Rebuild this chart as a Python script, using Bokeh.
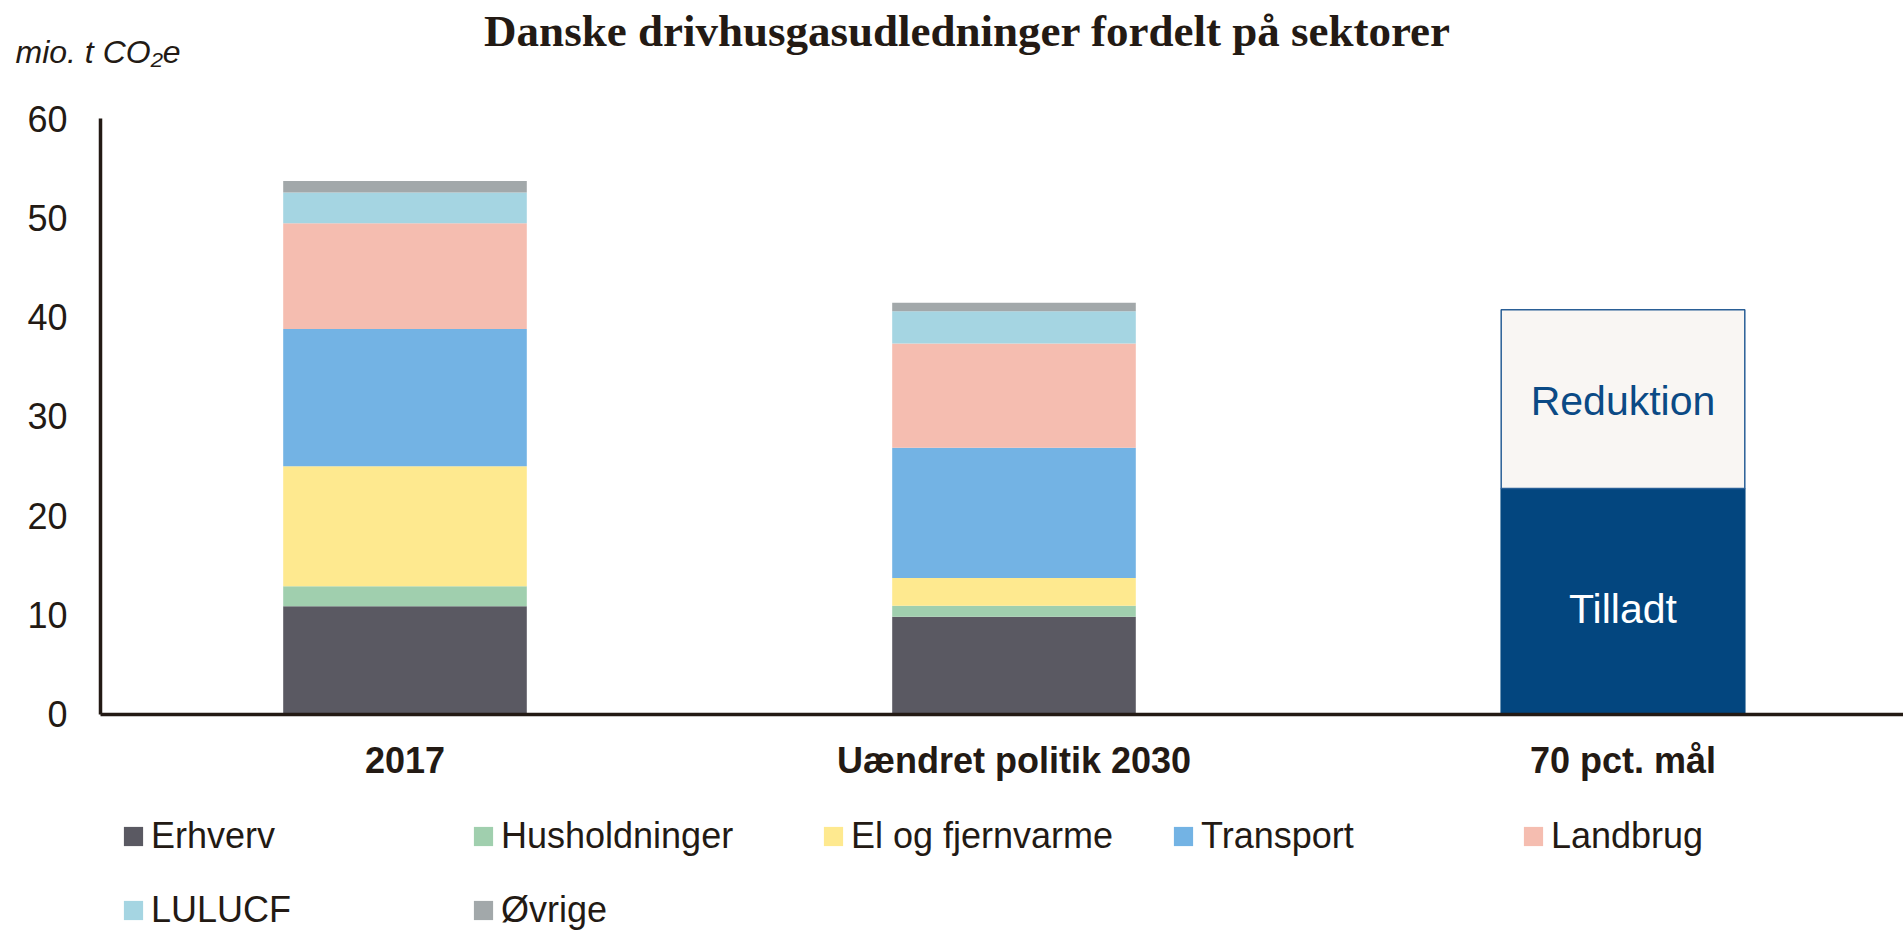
from bokeh.plotting import figure
from bokeh.models import (Range1d, FixedTicker, Legend, LegendItem, Label,
                          ColumnDataSource, LinearAxis)
from bokeh.core.properties import value
from bokeh.embed import file_html
from bokeh.resources import INLINE

# ---------------- data ----------------
categories = ["2017", "Uændret politik 2030", "70 pct. mål"]
sectors = ["Erhverv", "Husholdninger", "El og fjernvarme", "Transport",
           "Landbrug", "LULUCF", "Øvrige"]
erhverv = [10.9, 9.85]
husholdninger = [2.0, 1.1]
el_fjernvarme = [12.1, 2.8]
transport = [13.8, 13.1]
landbrug = [10.65, 10.5]
lulucf = [3.1, 3.25]
ovrige = [1.15, 0.85]
target_labels = ["Tilladt", "Reduktion"]
tilladt = [22.75]
reduktion = [18.0]
y_ticks = [0, 10, 20, 30, 40, 50, 60]

colors = ["#5a5962", "#a0cfae", "#fee98f", "#73b3e4", "#f5bdb0", "#a5d5e2", "#a2a8aa"]
TXT = "#231a14"
NAVY = "#03467f"

W, H = 1903, 931
# frame covers the whole canvas; axes are pinned with fixed_location
x_lo, x_hi = -0.6642, 2.4606
y_lo, y_hi = -21.85, 71.88

p = figure(width=W, height=H, output_backend="svg", toolbar_location=None,
           title=None, x_axis_type=None, y_axis_type=None,
           x_range=Range1d(x_lo, x_hi), y_range=Range1d(y_lo, y_hi),
           min_border=0, outline_line_color=None,
           background_fill_color="white", border_fill_color="white")
p.xgrid.visible = False
p.ygrid.visible = False

x_idx = list(range(len(categories)))

yaxis = LinearAxis(fixed_location=-0.5, bounds=(y_ticks[0], y_ticks[-1]),
                   ticker=FixedTicker(ticks=y_ticks), major_label_standoff=33)
xaxis = LinearAxis(fixed_location=0, bounds=(-0.5, x_hi),
                   ticker=FixedTicker(ticks=x_idx),
                   major_label_overrides={i: c for i, c in zip(x_idx, categories)},
                   major_label_text_font_style="bold", major_label_standoff=26)
for ax in (xaxis, yaxis):
    ax.axis_line_width = 3.5
    ax.axis_line_color = TXT
    ax.major_tick_in = 0
    ax.major_tick_out = 0
    ax.minor_tick_in = 0
    ax.minor_tick_out = 0
    ax.major_label_text_font = "Liberation Sans"
    ax.major_label_text_font_size = "36px"
    ax.major_label_text_color = TXT
p.add_layout(yaxis, "left")
p.add_layout(xaxis, "below")

# stacked sector bars
keys = ["s%d" % i for i in range(len(sectors))]
series = [erhverv, husholdninger, el_fjernvarme, transport, landbrug, lulucf, ovrige]
data = {"x": x_idx[:2]}
for k, s in zip(keys, series):
    data[k] = s
src = ColumnDataSource(data)
renderers = p.vbar_stack(keys, x="x", width=0.4, fill_color=colors,
                         line_color=None, source=src)

# target bar
t_bottom = [0, tilladt[0]]
t_top = [tilladt[0], tilladt[0] + reduktion[0]]
tsrc = ColumnDataSource(dict(x=[x_idx[2]] * 2, bottom=t_bottom, top=t_top,
                             fill=[NAVY, "#f9f6f3"], line=[NAVY, "#2a5f96"],
                             mid=[(b + t) / 2 for b, t in zip(t_bottom, t_top)],
                             label=target_labels, tcol=["white", "#0b4a85"],
                             yoff=[8, 2]))
p.vbar(x="x", bottom="bottom", top="top", width=0.4, fill_color="fill",
       line_color="line", line_width=1.5, source=tsrc)
p.text(x="x", y="mid", text="label", text_color="tcol", y_offset="yoff",
       source=tsrc, text_font=value("Liberation Sans"), text_font_size="41px",
       text_align="center", text_baseline="middle")

# legend
items = [LegendItem(label=s, renderers=[r]) for s, r in zip(sectors, renderers)]
legend = Legend(items=items, location=(121, 0), orientation="horizontal",
                ncols=5, glyph_width=24, glyph_height=24, label_standoff=6,
                label_width=288, spacing=32, padding=0, margin=0,
                border_line_color=None, background_fill_alpha=0,
                label_text_font="Liberation Sans", label_text_font_size="36px",
                label_text_color=TXT)
p.add_layout(legend)

# titles (screen units, from the frame's bottom-left = canvas bottom-left)
p.add_layout(Label(x=967, y=H - 30, x_units="screen", y_units="screen",
                   text="Danske drivhusgasudledninger fordelt på sektorer",
                   text_font="Liberation Serif", text_font_style="bold",
                   text_font_size="45px", text_align="center",
                   text_baseline="middle", text_color=TXT))
p.add_layout(Label(x=15, y=H - 51, x_units="screen", y_units="screen",
                   text="mio. t CO₂e", text_font="Liberation Sans",
                   text_font_style="italic", text_font_size="32px",
                   text_align="left", text_baseline="middle", text_color=TXT))

open("out.html", "w").write(file_html(p, INLINE))
